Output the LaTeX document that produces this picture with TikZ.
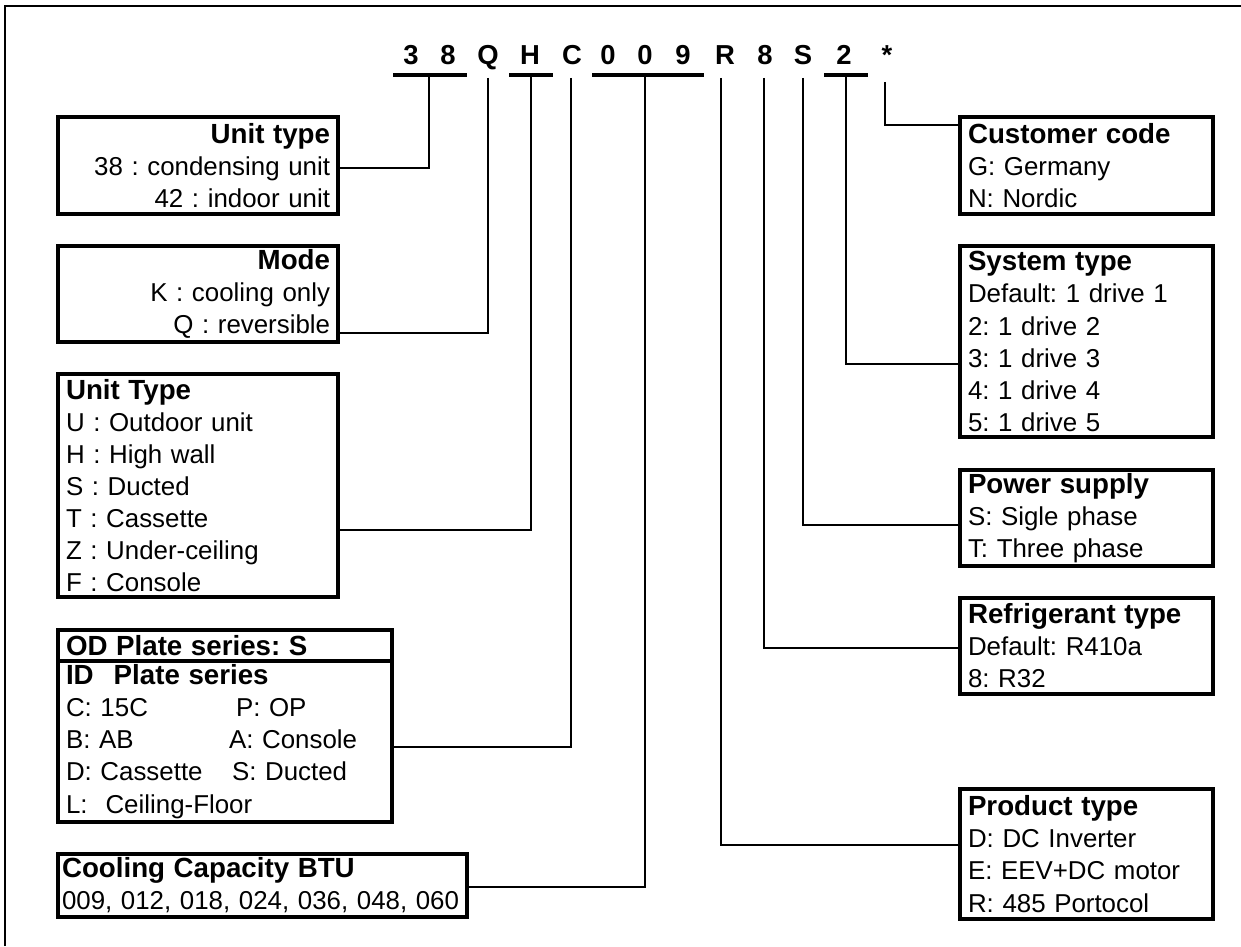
\documentclass[tikz,border=0pt]{standalone}
\usepackage{fontspec}
\setmainfont{Liberation Sans}
\usetikzlibrary{positioning}
\newcommand{\boxhead}[1]{{\fontsize{19.7}{22.8}\selectfont\bfseries #1}}

\begin{document}
\frenchspacing
\begin{tikzpicture}[x=0.025cm, y=-0.025cm,
					auto,
					line width=1.8pt,
					code/.style={font=\bfseries\fontsize{19.5}{22.8}\selectfont, anchor=base, inner sep=0pt},
					info box/.style={draw, line width=2.4pt, anchor=north west, inner xsep=0.2cm, inner ysep=0pt,
					                 outer sep=0pt, font=\fontsize{18.4}{22.8}\selectfont},
					bar/.style={line width=2.5pt},
					link/.style={line width=1.8pt}]

  \useasboundingbox (0,0) rectangle (1241,946);
  \draw[line width=1pt] (5,946) -- (5,6) -- (1241,6);

  % model code
  \node[code] (c3) at (411,65) {3};
  \node[code] (c8) at (448,65) {8};
  \node[code] (cQ) at (488,65) {Q};
  \node[code] (cH) at (530,65) {H};
  \node[code] (cC) at (572,65) {C};
  \node[code] (c0a) at (608,65) {0};
  \node[code] (c0b) at (645,65) {0};
  \node[code] (c9) at (683,65) {9};
  \node[code] (cR) at (725,65) {R};
  \node[code] (c8b) at (765,65) {8};
  \node[code] (cS) at (803,65) {S};
  \node[code] (c2) at (844,65) {2};
  \node[code] (cStar) at (887,65) {*};

  \draw[bar] (393,75) -- (467,75);
  \draw[bar] (509,75) -- (553,75);
  \draw[bar] (592,75) -- (704,75);
  \draw[bar] (824,75) -- (868,75);

  \coordinate (s38) at (429,76);
  \coordinate (sQ) at (488,78);
  \coordinate (sH) at (531,76);
  \coordinate (sC) at (571,78);
  \coordinate (s009) at (645,76);
  \coordinate (sR) at (721,78);
  \coordinate (s8) at (764,78);
  \coordinate (sS) at (803,78);
  \coordinate (s2) at (846,76);
  \coordinate (sStar) at (885,82);

  % left side
  \node[info box, text width=6.6cm, minimum height=2.425cm, align=right] (unitA) at (58,117)
    {\boxhead{Unit type}\\38 : condensing unit\\42 : indoor unit};
  \node[info box, text width=6.6cm, minimum height=2.4cm, align=right] (modeA) at (58,246)
    {\boxhead{Mode}\\K : cooling only\\Q : reversible};
  \node[info box, text width=6.6cm, minimum height=5.575cm, align=left] (unitB) at (58,374)
    {\boxhead{Unit Type}\\U : Outdoor unit\\H : High wall\\S : Ducted\\T : Cassette\\Z : Under-ceiling\\F : Console};
  \node[info box, text width=7.95cm, minimum height=0.775cm, align=left] (plateOD) at (58,630)
    {\boxhead{OD Plate series: S}};
  \node[info box, text width=7.95cm, minimum height=4.025cm, align=left, below=0pt of plateOD] (plateID)
    {\boxhead{ID\hspace{0.5cm}Plate series}\\
     \makebox[4.25cm][l]{C: 15C}P: OP\\
     \makebox[4.075cm][l]{B: AB}A: Console\\
     \makebox[4.15cm][l]{D: Cassette}S: Ducted\\
     L:\hspace{0.45cm}Ceiling-Floor};
  \node[info box, text width=10.02cm, inner xsep=0.1cm, minimum height=1.575cm, align=left] (cap) at (58,854)
    {\boxhead{Cooling Capacity BTU}\\009, 012, 018, 024, 036, 048, 060};

  % right side
  \node[info box, text width=5.925cm, minimum height=2.425cm, align=left] (cust) at (960,117)
    {\boxhead{Customer code}\\G: Germany\\N: Nordic};
  \node[info box, text width=5.925cm, minimum height=4.775cm, align=left] (sys) at (960,246)
    {\boxhead{System type}\\Default: 1 drive 1\\2: 1 drive 2\\3: 1 drive 3\\4: 1 drive 4\\5: 1 drive 5};
  \node[info box, text width=5.925cm, minimum height=2.4cm, align=left] (power) at (960,470)
    {\boxhead{Power supply}\\S: Sigle phase\\T: Three phase};
  \node[info box, text width=5.925cm, minimum height=2.4cm, align=left] (refr) at (960,598)
    {\boxhead{Refrigerant type}\\Default: R410a\\8: R32};
  \node[info box, text width=5.925cm, minimum height=3.25cm, align=left] (prod) at (960,789)
    {\boxhead{Product type}\\D: DC Inverter\\E: EEV+DC motor\\R: 485 Portocol};

  \coordinate (e38) at (0,168);
  \coordinate (eQ) at (0,333);
  \coordinate (eH) at (0,530);
  \coordinate (eC) at (0,747);
  \coordinate (e009) at (0,887);
  \coordinate (eR) at (0,845);
  \coordinate (e8) at (0,648);
  \coordinate (eS) at (0,525);
  \coordinate (e2) at (0,364);
  \coordinate (eStar) at (0,125);

  \draw[link] (s38) |- (unitA.east |- e38);
  \draw[link] (sQ) |- (modeA.east |- eQ);
  \draw[link] (sH) |- (unitB.east |- eH);
  \draw[link] (sC) |- (plateID.east |- eC);
  \draw[link] (s009) |- (cap.east |- e009);
  \draw[link] (sR) |- (prod.west |- eR);
  \draw[link] (s8) |- (refr.west |- e8);
  \draw[link] (sS) |- (power.west |- eS);
  \draw[link] (s2) |- (sys.west |- e2);
  \draw[link] (sStar) |- (cust.west |- eStar);
\end{tikzpicture}
\end{document}
